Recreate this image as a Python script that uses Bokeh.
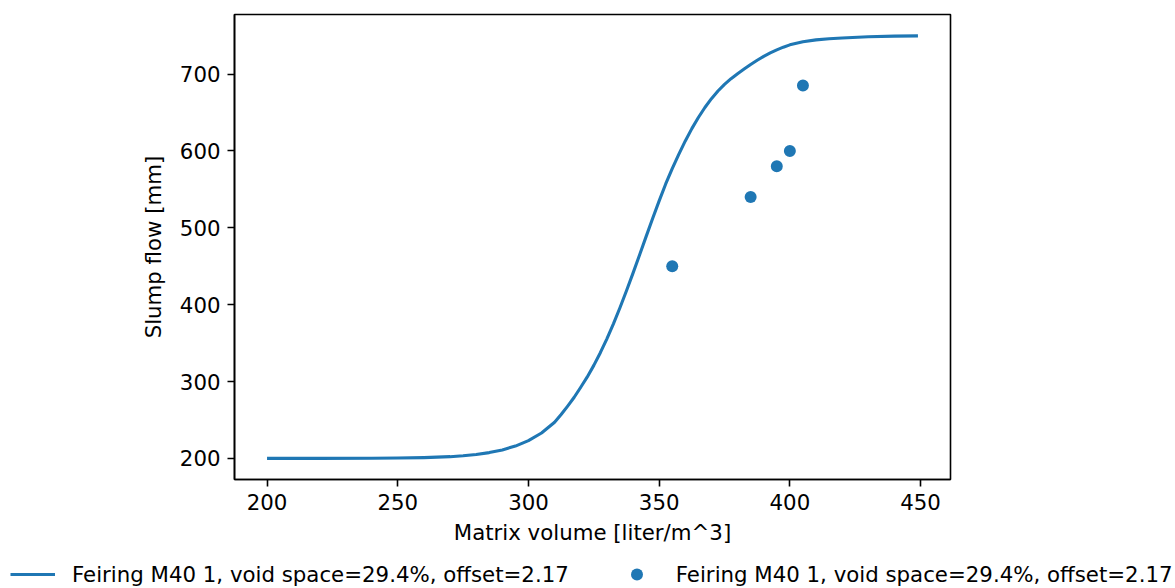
from bokeh.plotting import figure
from bokeh.models import Range1d, FixedTicker, Legend, LegendItem
from bokeh.embed import file_html
from bokeh.resources import INLINE

# Model curve
curve_x = [200, 220, 240, 250, 260, 270, 275, 280, 285, 290, 295, 300, 305, 310,
           312.5, 315, 317.5, 320, 322.5, 325, 327.5, 330, 332.5, 335, 337.5,
           340, 342.5, 345, 347.5, 350, 352.5, 355, 357.5, 360, 362.5, 365,
           367.5, 370, 372.5, 375, 377.5, 380, 382.5, 385, 387.5, 390, 392.5,
           395, 397.5, 400, 405, 410, 415, 420, 430, 440, 449]
curve_y = [200, 200, 200.2, 200.5, 201, 202.2, 203.3, 205, 207.5, 211, 216, 223,
           233, 247, 257, 268, 279.5, 292.5, 306, 321, 337.5, 355.5, 375,
           396, 418, 441, 464.5, 488.5, 512, 535, 557, 577, 595.5, 613, 629,
           643.5, 656.5, 668, 678, 686.5, 694, 700.5, 706.5, 712.5, 718, 723,
           727.5, 731.5, 735, 738, 742, 744.5, 746, 747, 748.5, 749.3, 749.7]

# Measured points
meas_x = [355, 385, 395, 400, 405]
meas_y = [450, 540, 580, 600, 685]

x_ticks = [200, 250, 300, 350, 400, 450]
y_ticks = [200, 300, 400, 500, 600, 700]

label = "Feiring M40 1, void space=29.4%, offset=2.17"
x_label = "Matrix volume [liter/m^3]"
y_label = "Slump flow [mm]"

BLUE = "#1f77b4"
FONT = "DejaVu Sans"
FS = "21.3px"

p = figure(width=1175, height=552, output_backend="svg", toolbar_location=None,
           x_range=Range1d(187.55, 461.45), y_range=Range1d(172.5, 777.5),
           min_border_left=234, min_border_right=225, min_border_top=14,
           min_border_bottom=73)

p.background_fill_color = "white"
p.border_fill_color = "white"
p.outline_line_color = "black"
p.outline_line_width = 1.6
p.grid.visible = False

line_kw = dict(line_color=BLUE, line_width=3.1, line_join="round")
pt_kw = dict(size=12, fill_color=BLUE, line_color=BLUE, line_width=0)

p.line(curve_x, curve_y, **line_kw)
p.scatter(meas_x, meas_y, **pt_kw)

for ax in (p.xaxis[0], p.yaxis[0]):
    ax.axis_line_color = "black"
    ax.axis_line_width = 1.6
    ax.major_tick_line_color = "black"
    ax.major_tick_line_width = 1.6
    ax.major_tick_out = 7
    ax.major_tick_in = 0
    ax.minor_tick_line_color = None
    ax.major_label_text_font = FONT
    ax.major_label_text_font_size = FS
    ax.major_label_text_color = "black"
    ax.axis_label_text_font = FONT
    ax.axis_label_text_font_size = FS
    ax.axis_label_text_font_style = "normal"
    ax.axis_label_text_color = "black"
    ax.major_label_standoff = 7

p.xaxis[0].ticker = FixedTicker(ticks=x_ticks)
p.yaxis[0].ticker = FixedTicker(ticks=y_ticks)
p.xaxis[0].axis_label = x_label
p.yaxis[0].axis_label = y_label
p.xaxis[0].axis_label_standoff = 7
p.yaxis[0].axis_label_standoff = 11

# Legend strip below the chart (separate root, frame spans the full width)
p2 = figure(width=1175, height=36, output_backend="svg", toolbar_location=None,
            x_axis_location=None, y_axis_location=None,
            x_range=Range1d(0, 1), y_range=Range1d(0, 1),
            min_border=0, min_border_left=0, min_border_right=0,
            min_border_top=0, min_border_bottom=0)
p2.outline_line_color = None
p2.grid.visible = False
p2.background_fill_color = "white"
p2.border_fill_color = "white"
lr = p2.line([-5, -4], [-5, -4], **line_kw)
sr = p2.scatter([-5], [-5], **pt_kw)

legend = Legend(items=[LegendItem(label=label, renderers=[lr]),
                       LegendItem(label=label, renderers=[sr])],
                orientation="horizontal", location=(10, -1),
                glyph_width=45, glyph_height=30, label_height=30,
                label_standoff=17, spacing=45, padding=0, margin=0,
                border_line_color=None, background_fill_alpha=0,
                label_text_font=FONT, label_text_font_size=FS,
                label_text_color="black")
p2.add_layout(legend, "center")

open("out.html", "w").write(file_html([p, p2], INLINE))
